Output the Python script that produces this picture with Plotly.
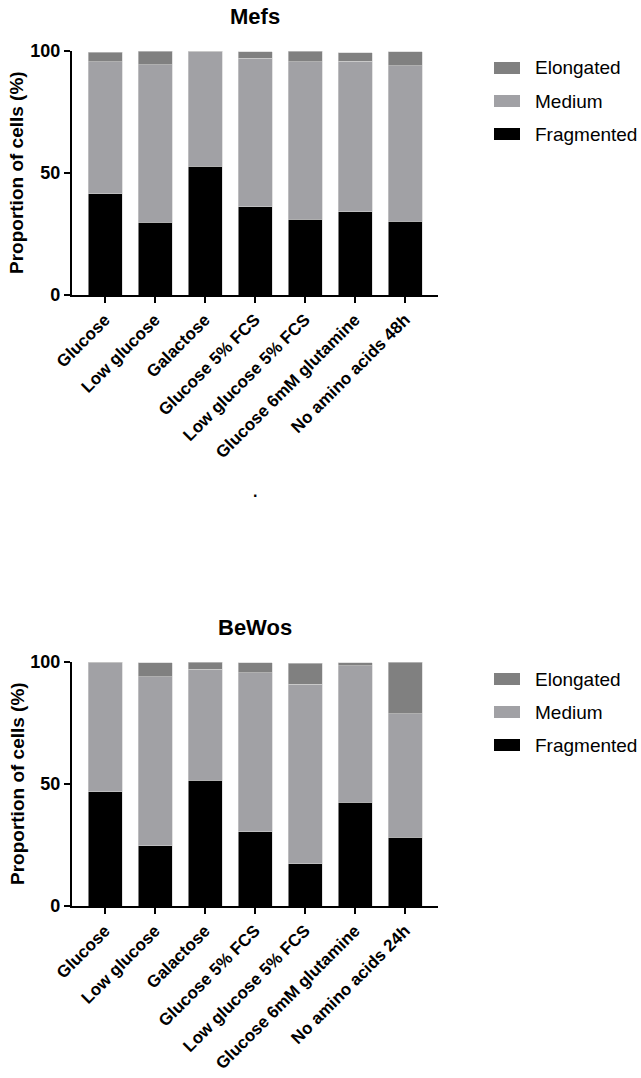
import plotly.graph_objects as go

W, H = 641, 1078

categories_mefs = ["Glucose", "Low glucose", "Galactose", "Glucose 5% FCS",
                   "Low glucose 5% FCS", "Glucose 6mM glutamine", "No amino acids 48h"]
categories_bewos = ["Glucose", "Low glucose", "Galactose", "Glucose 5% FCS",
                    "Low glucose 5% FCS", "Glucose 6mM glutamine", "No amino acids 24h"]

# Segment sizes (%)
mefs_fragmented = [41.5, 29.9, 52.7, 36.2, 31.0, 34.2, 30.3]
mefs_medium = [54.0, 64.5, 47.2, 60.8, 64.5, 61.7, 63.7]
mefs_elongated = [4.0, 5.4, 0.3, 2.7, 4.5, 3.4, 5.6]

bewos_fragmented = [46.8, 24.7, 51.5, 30.5, 17.3, 42.5, 28.2]
bewos_medium = [52.9, 69.3, 45.5, 65.1, 73.6, 55.9, 50.5]
bewos_elongated = [0.3, 5.7, 3.0, 4.1, 8.6, 1.3, 21.3]

series_names = ["Fragmented", "Medium", "Elongated"]
series_colors = ["#000000", "#a1a1a5", "#808080"]

FONT = "Liberation Sans, Arial, sans-serif"


def px_x(p):
    return p / W


def px_y(p):
    return 1 - p / H


fig = go.Figure()

panels = [
    ("x", "y", categories_mefs, [mefs_fragmented, mefs_medium, mefs_elongated]),
    ("x2", "y2", categories_bewos, [bewos_fragmented, bewos_medium, bewos_elongated]),
]
for xa, ya, cats, vals in panels:
    for name, color, v in zip(series_names, series_colors, vals):
        fig.add_trace(go.Bar(
            x=cats, y=v, name=name, xaxis=xa, yaxis=ya,
            marker=dict(color=color, line=dict(width=0.6, color="#d0d0d0")),
            width=0.68, showlegend=False,
        ))

x_dom = [px_x(72), px_x(438)]
top_px = [(51, 295), (662, 906)]

axis_common = dict(
    showline=True, linecolor="black", linewidth=2.2, showgrid=False, zeroline=False,
    ticks="outside", ticklen=6, tickwidth=2, tickcolor="black", automargin=False,
)
xtick_font = dict(family=FONT, size=17, weight="bold")
ytick_font = dict(family=FONT, size=18, weight="bold")

fig.update_layout(
    width=W, height=H,
    margin=dict(l=0, r=0, t=0, b=0),
    plot_bgcolor="white", paper_bgcolor="white",
    barmode="stack",
    font=dict(family=FONT, color="black"),
    xaxis=dict(domain=x_dom, anchor="y", range=[-0.66, 6.66], tickangle=-45,
               tickfont=xtick_font, **axis_common),
    yaxis=dict(domain=[px_y(top_px[0][1]), px_y(top_px[0][0])], anchor="x",
               range=[0, 100], tickvals=[0, 50, 100],
               tickfont=ytick_font, **axis_common),
    xaxis2=dict(domain=x_dom, anchor="y2", range=[-0.66, 6.66], tickangle=-45,
                tickfont=xtick_font, **axis_common),
    yaxis2=dict(domain=[px_y(top_px[1][1]), px_y(top_px[1][0])], anchor="x2",
                range=[0, 100], tickvals=[0, 50, 100],
                tickfont=ytick_font, **axis_common),
)

titles = ["Mefs", "BeWos"]
annotations = []
shapes = []
for (t, b), title in zip(top_px, titles):
    annotations.append(dict(
        text="<b>%s</b>" % title, x=px_x(255), y=px_y(t - 35), xref="paper", yref="paper",
        showarrow=False, xanchor="center", yanchor="middle",
        font=dict(family=FONT, size=22, color="black")))
    annotations.append(dict(
        text="<b>Proportion of cells (%)</b>", x=px_x(17), y=px_y((t + b) / 2),
        xref="paper", yref="paper", showarrow=False, textangle=-90,
        xanchor="center", yanchor="middle",
        font=dict(family=FONT, size=19, color="black")))
    legend_items = list(zip(series_names, series_colors))[::-1]
    for i, (name, color) in enumerate(legend_items):
        cy = t + 17 + 33 * i
        shapes.append(dict(
            type="rect", xref="paper", yref="paper",
            x0=px_x(494), x1=px_x(520), y0=px_y(cy + 6), y1=px_y(cy - 6),
            fillcolor=color, line=dict(width=0)))
        annotations.append(dict(
            text=name, x=px_x(533), y=px_y(cy), xref="paper", yref="paper",
            showarrow=False, xanchor="left", yanchor="middle",
            font=dict(family=FONT, size=19, color="black")))

annotations.append(dict(
    text="<b>.</b>", x=px_x(255), y=px_y(492), xref="paper", yref="paper",
    showarrow=False, xanchor="center", yanchor="middle",
    font=dict(family=FONT, size=16, color="black")))

fig.update_layout(annotations=annotations, shapes=shapes)

# remove the browser's default page margin so the figure fills the window exactly
fig.write_html("out.html", config={"displayModeBar": False},
               post_script="document.body.style.margin='0';")
